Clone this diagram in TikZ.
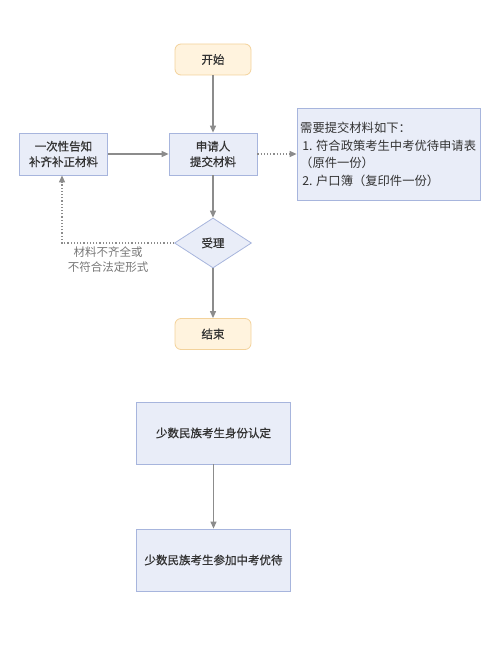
\documentclass[tikz,border=0pt]{standalone}
\usepackage{fontspec}
\setmainfont{Noto Sans CJK SC}
\newfontfamily\cjk[FakeBold=0.8]{Noto Sans CJK SC}
\newfontfamily\cjkl{Noto Sans CJK SC}
\usetikzlibrary{shapes.geometric,arrows.meta}
\definecolor{termfill}{HTML}{FFF3DE}
\definecolor{termdraw}{HTML}{F3D29B}
\definecolor{boxfill}{HTML}{E9EDF8}
\definecolor{boxdraw}{HTML}{A7B5DD}
\definecolor{linec}{HTML}{8C8C8C}
\definecolor{textc}{HTML}{333333}
\tikzset{
  every node/.style={font=\cjk\fontsize{11.5}{15.5}\selectfont, text=textc},
  term/.style={draw=termdraw, fill=termfill, rounded corners=6pt, minimum width=76pt, minimum height=31pt, line width=0.8pt},
  proc/.style={draw=boxdraw, fill=boxfill, minimum width=88pt, minimum height=42pt, align=center, line width=0.8pt},
  bigbox/.style={draw=boxdraw, fill=boxfill, minimum width=154pt, minimum height=62pt, align=center, line width=0.8pt},
  dec/.style={draw=boxdraw, fill=boxfill, diamond, aspect=1.54, minimum width=77pt, minimum height=50pt, inner sep=0pt, line width=0.8pt},
  conn/.style={draw=linec, line width=1.2pt, -{Triangle[length=7pt,width=6pt]}},
  dconn/.style={draw=linec, line width=1.2pt, dotted, -{Triangle[length=7pt,width=6pt]}}
}
\begin{document}
\begin{tikzpicture}[x=1pt,y=-1pt]
\useasboundingbox (0,0) rectangle (500,650);
\node[term] (start) at (213,59.5) {开始};
\node[proc] (apply) at (213,154) {申请人\\提交材料};
\node[proc] (notify) at (63.5,154) {一次性告知\\补齐补正材料};
\node[draw=boxdraw, fill=boxfill, minimum width=183pt, minimum height=92pt, line width=0.8pt] (note) at (388.5,154) {};
\node[anchor=north west, align=left, inner sep=0pt, font=\cjkl\fontsize{12.3}{17.5}\selectfont] (notetext) at (300,122) {需要提交材料如下：\\\,1. 符合政策考生中考优待申请表\\（原件一份）\\\,2. 户口簿（复印件一份）};
\node[dec] (accept) at (213,243) {受理};
\node[term] (end) at (213,334) {结束};
\node[bigbox] (id) at (213.5,433) {少数民族考生身份认定};
\node[bigbox] (pref) at (213.5,560) {少数民族考生参加中考优待};
\coordinate (corner) at (62,243);
\node[text=linec!85!black, align=center, font=\cjkl\fontsize{11.5}{15}\selectfont] (lbl) at (108,260) {材料不齐全或\\不符合法定形式};
\draw[conn] (start) -- (apply);
\draw[conn] (notify) -- (apply);
\draw[dconn] (apply) -- (note);
\draw[conn] (apply) -- (accept);
\draw[conn] (accept) -- (end);
\draw[dconn] (accept.west) -- (corner) -- (notify.south -| corner);
\draw[conn] (id) -- (pref);
\end{tikzpicture}
\end{document}
